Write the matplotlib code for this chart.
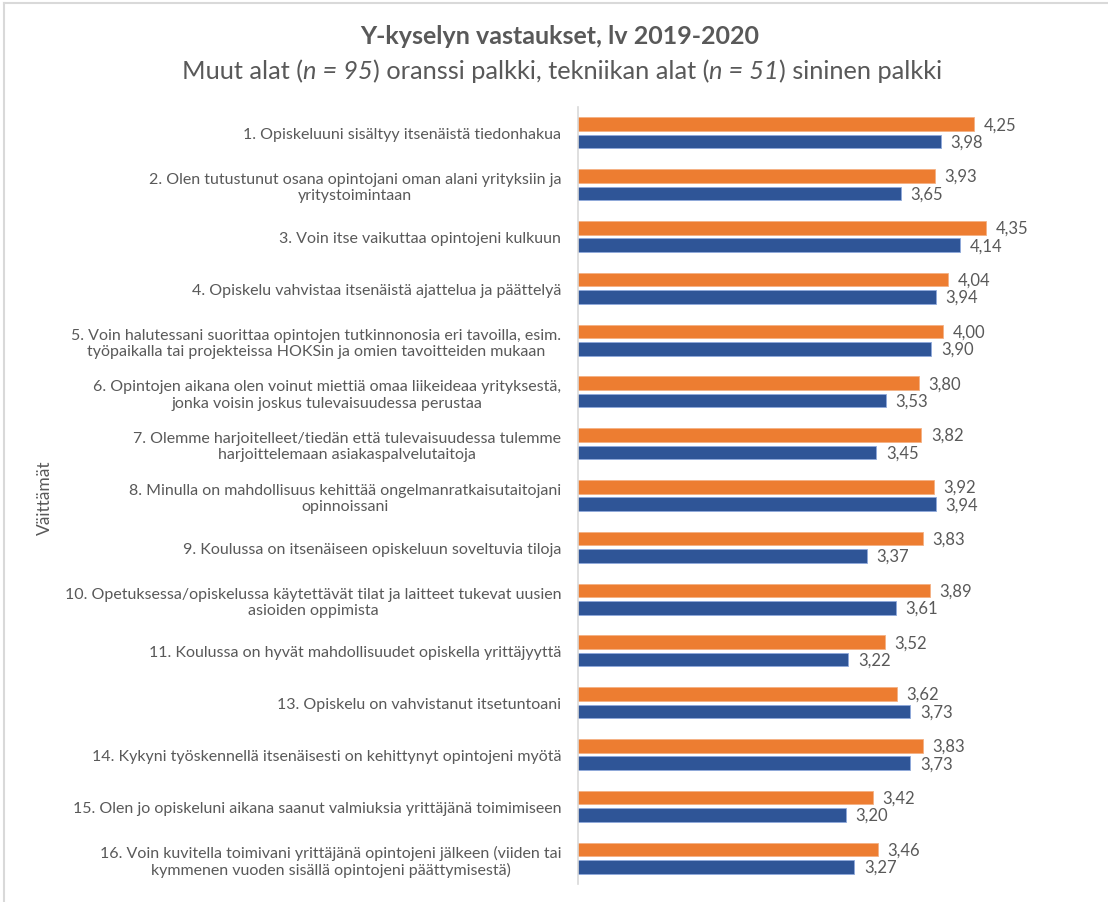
import numpy as np
import matplotlib.pyplot as plt
from matplotlib.lines import Line2D

# -----------------------------
# Data
# -----------------------------
statements = [
    "1. Opiskeluuni sisältyy itsenäistä tiedonhakua",
    "2. Olen tutustunut osana opintojani oman alani yrityksiin ja\nyritystoimintaan",
    "3. Voin itse vaikuttaa opintojeni kulkuun",
    "4. Opiskelu vahvistaa itsenäistä ajattelua ja päättelyä",
    "5. Voin halutessani suorittaa opintojen tutkinnonosia eri tavoilla, esim.\ntyöpaikalla tai projekteissa HOKSin ja omien tavoitteiden mukaan",
    "6. Opintojen aikana olen voinut miettiä omaa liikeideaa yrityksestä,\njonka voisin joskus tulevaisuudessa perustaa",
    "7. Olemme harjoitelleet/tiedän että tulevaisuudessa tulemme\nharjoittelemaan asiakaspalvelutaitoja",
    "8. Minulla on mahdollisuus kehittää ongelmanratkaisutaitojani\nopinnoissani",
    "9. Koulussa on itsenäiseen opiskeluun soveltuvia tiloja",
    "10. Opetuksessa/opiskelussa käytettävät tilat ja laitteet tukevat uusien\nasioiden oppimista",
    "11. Koulussa on hyvät mahdollisuudet opiskella yrittäjyyttä",
    "13. Opiskelu on vahvistanut itsetuntoani",
    "14. Kykyni työskennellä itsenäisesti on kehittynyt opintojeni myötä",
    "15. Olen jo opiskeluni aikana saanut valmiuksia yrittäjänä toimimiseen",
    "16. Voin kuvitella toimivani yrittäjänä opintojeni jälkeen (viiden tai\nkymmenen vuoden sisällä opintojeni päättymisestä)",
]

muut_alat = [4.25, 3.93, 4.35, 4.04, 4.00, 3.80, 3.82, 3.92, 3.83, 3.89,
             3.52, 3.62, 3.83, 3.42, 3.46]       # orange, n = 95
tekniikka = [3.98, 3.65, 4.14, 3.94, 3.90, 3.53, 3.45, 3.94, 3.37, 3.61,
             3.22, 3.73, 3.73, 3.20, 3.27]       # blue, n = 51

# subtitle pieces: (text, italic?)
subtitle = [("Muut alat (", False), ("n = 95", True),
            (") oranssi palkki, tekniikan alat (", False), ("n = 51", True),
            (") sininen palkki", False)]

ORANGE = '#ED7D31'
BLUE = '#2F5597'
GREY = '#595959'

plt.rcParams['font.family'] = ['Lato', 'DejaVu Sans']

# -----------------------------
# Plot
# -----------------------------
fig = plt.figure(figsize=(11.08, 9.03), dpi=100)
ax = fig.add_axes([578 / 1108, 1 - 885 / 903, (1065 - 578) / 1108, 777 / 903])

y = np.arange(len(statements))
h = 0.26
off = 0.168

ax.barh(y - off, muut_alat, height=h, left=0, color=ORANGE,
        edgecolor='#F4B183', linewidth=0.6)
ax.barh(y + off, tekniikka, height=h, left=0, color=BLUE,
        edgecolor='#8FAADC', linewidth=0.6)

for yi, a, b in zip(y, muut_alat, tekniikka):
    ax.annotate(f"{a:.2f}".replace('.', ','), xy=(a, yi - off), xytext=(7, 0),
                textcoords='offset points', va='center', ha='left',
                fontsize=12, color=GREY)
    ax.annotate(f"{b:.2f}".replace('.', ','), xy=(b, yi + off), xytext=(7, 0),
                textcoords='offset points', va='center', ha='left',
                fontsize=12, color=GREY)

ax.set_xlim(1, 5)
ax.set_ylim(len(statements) - 0.5, -0.5)
ax.set_yticks(y)
ax.set_yticklabels(statements, fontsize=11.5, color=GREY, multialignment='center')
ax.tick_params(axis='y', length=0, pad=12)
ax.set_xticks([])

for side in ['top', 'right', 'bottom']:
    ax.spines[side].set_visible(False)
ax.spines['left'].set_color('#D9D9D9')
ax.spines['left'].set_linewidth(1.2)

# -----------------------------
# Titles
# -----------------------------
fig.text(0.505, 1 - 37 / 903, "Y-kyselyn vastaukset, lv 2019-2020", ha='center',
         va='center', fontsize=18, fontweight='bold', color=GREY)

# subtitle with italic "n = .." parts: measure pieces, then lay them out centred
renderer = fig.canvas.get_renderer()
pieces = [fig.text(0, 1 - 79 / 903, txt, ha='left', va='baseline', fontsize=18.3,
                   color=GREY, style='italic' if it else 'normal')
          for txt, it in subtitle]
widths = [t.get_window_extent(renderer).width / fig.bbox.width for t in pieces]
x = 0.507 - sum(widths) / 2
for t, w in zip(pieces, widths):
    t.set_x(x)
    x += w

fig.text(45 / 1108, 1 - 498 / 903, "Väittämät", rotation=90, ha='center',
         va='center', fontsize=12.5, color=GREY)

# light frame of the chart area (top and left edges)
fig.add_artist(Line2D([4 / 1108, 1], [1 - 4 / 903] * 2, transform=fig.transFigure,
                      color='#D9D9D9', lw=1.5))
fig.add_artist(Line2D([4 / 1108] * 2, [0, 1 - 4 / 903], transform=fig.transFigure,
                      color='#D9D9D9', lw=1.5))

fig.savefig('out.png', dpi=100)
